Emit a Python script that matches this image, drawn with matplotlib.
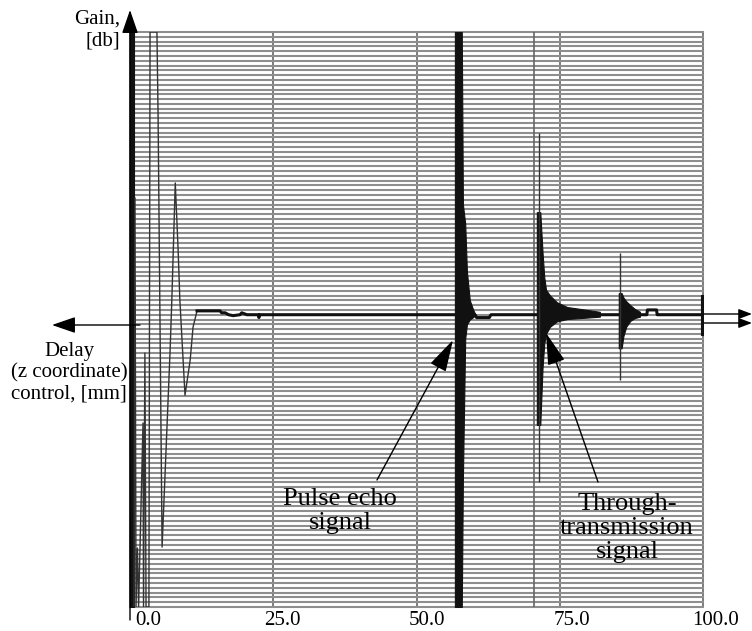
import matplotlib
matplotlib.use('Agg')
import matplotlib.pyplot as plt
from matplotlib.ticker import MultipleLocator
from matplotlib.transforms import ScaledTranslation

plt.rcParams['font.family'] = ['Liberation Serif', 'DejaVu Serif']

# ---------------- data ----------------
x_ticks = [0, 25, 50, 75, 100]
x_tick_labels = ['0.0', '25.0', '50.0', '75.0', '100.0']
gate_lines = [70.5]

# initial pulse ringing (thin trace)
ring_x = [0.7, 0.87, 1.05, 1.3, 1.5, 2.27, 2.36, 2.6, 2.8, 3.3, 3.5, 4.7, 4.9,
          5.6, 7.0, 7.3, 7.9, 8.4, 8.7, 9.6, 10.5, 11.0, 11.7]
ring_y = [-60, 25.4, -60, -47.7, -60, -21.6, -60, -7.0, -60, -60, 60, 60, 42.7,
          -47.5, -6.4, 4.1, 28.5, 14.5, 4.1, -15.8, -8.5, -1.6, 1.8]

# baseline of the trace with its small features
base_x = [11.7, 15.7, 16.0, 16.6, 17.2, 18.0, 19.2, 19.5, 20.4, 22.4, 22.5, 22.6,
          56.6, 60.2, 60.5, 62.7, 63.0, 90.2, 90.3, 91.9, 92.0, 100.0]
base_y = [1.8, 1.8, 1.4, 1.4, 1.0, 0.8, 1.0, 1.4, 1.0, 1.0, 0.4, 1.0,
          1.0, 1.0, 0.4, 0.4, 1.0, 1.0, 2.0, 2.0, 1.0, 1.0]

# thin isolated spikes
spike_x = [71.4, 85.55]
spike_top = [38.9, 13.9]
spike_bottom = [-33.9, -12.6]

# dense bursts drawn as envelopes
start_x = [0.0, 0.75]
start_hi = [60, 60]
start_lo = [-60, -60]

echo_x = [56.7, 57.2, 57.9, 58.1, 58.5, 58.8, 59.3, 59.9, 60.3]
echo_hi = [60, 60, 60, 24, 20, 10, 4, 2, 1]
echo_lo = [-60, -60, -60, -33, -4, -1, 0, 0.5, 1]

through_x = [71.0, 71.6, 72.0, 72.3, 72.6, 73.3, 74.5, 76.3, 79.8, 82.0]
through_hi = [22.4, 22.4, 13.9, 8.8, 6.2, 5.0, 3.6, 2.6, 2.0, 1.6]
through_lo = [-22.0, -22.0, -10.0, -5.0, -3.0, -1.5, -0.4, 0.1, 0.4, 0.6]

third_x = [85.3, 85.8, 86.1, 86.6, 87.3, 88.1, 89.0]
third_hi = [5.5, 5.5, 4.6, 3.8, 3.0, 2.2, 1.6]
third_lo = [-6.0, -6.0, -3.5, -1.5, -0.3, 0.3, 0.6]

fourth_x = [99.6, 100.0]
fourth_hi = [5.1, 5.1]
fourth_lo = [-3.2, -3.2]

# ---------------- layout ----------------
W, H = 752, 631
fig = plt.figure(figsize=(W / 100, H / 100), dpi=100)
ax = fig.add_axes([130 / W, 1 - 607 / H, 573 / W, 575 / H])
ax.set_xlim(0, 100)
ax.set_ylim(-60, 60)

def F(x, y):
    return (x / W, 1 - y / H)

# grid
ax.yaxis.set_major_locator(MultipleLocator(1))
ax.set_xticks(x_ticks)
ax.set_xticklabels(x_tick_labels)
ax.set_yticklabels([])
ax.tick_params(axis='both', length=0)
ax.tick_params(axis='x', labelsize=15, pad=3)
ax.grid(axis='y', color='#8e8e8e', lw=1.5)
ax.grid(axis='x', color='#666666', lw=1.2)
ax.set_axisbelow(True)
for gl in ax.get_xgridlines() + ax.get_ygridlines():
    gl.set_clip_on(False)
for s in ax.spines.values():
    s.set_visible(False)
for g in gate_lines:
    ax.axvline(g, color='#666666', lw=1.2, zorder=1)

label_shift_px = [18, 9, 10, 12, 13]
for lab, dx in zip(ax.get_xticklabels(), label_shift_px):
    lab.set_transform(lab.get_transform() +
                      ScaledTranslation(dx / 100, 0, fig.dpi_scale_trans))

# signal
for xs, hi, lo in [(start_x, start_hi, start_lo), (echo_x, echo_hi, echo_lo),
                   (through_x, through_hi, through_lo),
                   (third_x, third_hi, third_lo), (fourth_x, fourth_hi, fourth_lo)]:
    ax.fill_between(xs, lo, hi, color='#111111', lw=0.8, zorder=3)
ax.plot(ring_x, ring_y, color='#333333', lw=1.0, zorder=3)
ax.plot(base_x, base_y, color='#111111', lw=2.2, zorder=3)
ax.vlines(spike_x, spike_bottom, spike_top, color='#333333', lw=1.0, zorder=3)

# axis arrows
def arrow(tail, tip, hl, hw, lw=1.0):
    ax.annotate('', xy=F(*tip), xytext=F(*tail), xycoords='figure fraction',
                textcoords='figure fraction', annotation_clip=False,
                arrowprops=dict(arrowstyle='-|>,head_length=%g,head_width=%g' % (hl, hw),
                                color='black', lw=lw, shrinkA=0, shrinkB=0,
                                mutation_scale=10))

arrow((130, 620), (130, 10), 1.45, 0.5)
arrow((140, 325), (52, 325), 1.45, 0.5)
arrow((704, 314), (752, 314), 0.8, 0.3)
arrow((704, 323), (752, 323), 0.8, 0.3)
arrow((377, 480), (453, 340), 2.0, 0.55)
arrow((598, 482), (546, 333), 2.0, 0.55)

# texts
fig.text(*F(120, 30), 'Gain,\n[db]', ha='right', va='center', fontsize=15,
         multialignment='right', linespacing=1.15)
fig.text(*F(69, 373), 'Delay\n(z coordinate)\ncontrol, [mm]', ha='center',
         va='center', fontsize=15, linespacing=1.15)
fig.text(*F(340, 511), 'Pulse echo\nsignal', ha='center', va='center',
         fontsize=19, linespacing=1.1)
fig.text(*F(627, 528), 'Through-\ntransmission\nsignal', ha='center',
         va='center', fontsize=19, linespacing=1.1)

fig.savefig('out.png', dpi=100)
